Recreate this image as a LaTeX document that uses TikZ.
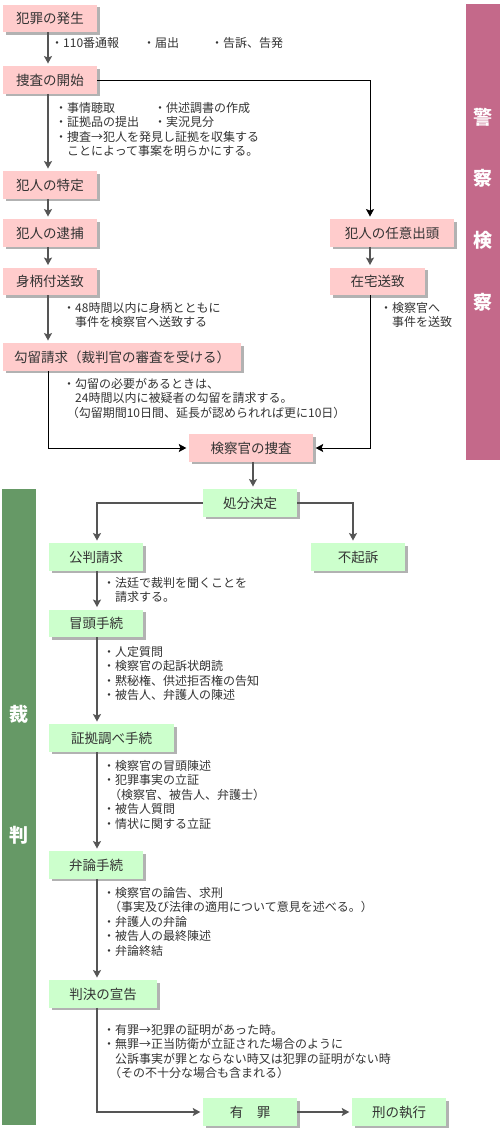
\documentclass[tikz,border=0pt]{standalone}
\usepackage{fontspec}
\setmainfont{Noto Sans CJK JP}
\usetikzlibrary{arrows.meta,shadows}
\definecolor{pinkbox}{HTML}{FFCCCC}
\definecolor{greenbox}{HTML}{CCFFCC}
\definecolor{pinkband}{HTML}{C4698A}
\definecolor{greenband}{HTML}{669966}
\definecolor{txt}{HTML}{333333}
\definecolor{arrgray}{HTML}{555555}
\tikzset{
  boxbase/.style={inner sep=0pt, minimum height=27.5, text=txt,
    font=\fontsize{13.5}{16}\selectfont,
    drop shadow={shadow xshift=2.5pt, shadow yshift=-2.5pt, fill=black, opacity=0.3}},
  pbox/.style={boxbase, fill=pinkbox},
  gbox/.style={boxbase, fill=greenbox},
  ann/.style={anchor=base west, inner sep=0pt, text=txt, font=\fontsize{12}{14.4}\selectfont},
  bandtxt/.style={text=white, font=\fontsize{19}{20}\selectfont\bfseries, inner sep=0pt},
  arr/.style={draw=arrgray, line width=1.4pt, -{Stealth[length=7.5pt,width=8pt,inset=1.5pt]}, shorten >=2.5pt},
  thin/.style={draw=black, line width=0.9pt},
  thinarr/.style={thin, -{Stealth[length=7.5pt,width=8pt,inset=1.5pt]}, shorten >=2.5pt},
}
\newcommand{\annblock}[4]{% name, x, first y center, list
  \foreach \t [count=\i from 0] in {#4}
    \node[ann] (#1-\i) at (#2, #3+\i*14.4+4.5) {\t};
}
\begin{document}
\begin{tikzpicture}[x=1pt, y=-1pt]
\useasboundingbox (0,0) rectangle (500,1134);

% bands
\fill[pinkband] (466,4) rectangle (500,460);
\node[bandtxt] (b1) at (483,117) {警};
\node[bandtxt] (b2) at (483,178) {察};
\node[bandtxt] (b3) at (483,240) {検};
\node[bandtxt] (b4) at (483,302) {察};
\fill[greenband] (2,489) rectangle (36,1125);
\node[bandtxt] (b5) at (19,714) {裁};
\node[bandtxt] (b6) at (19,835) {判};

% police boxes
\node[pbox, minimum width=94] (hassei) at (50,18.5) {犯罪の発生};
\node[pbox, minimum width=94] (kaishi) at (50,80) {捜査の開始};
\node[pbox, minimum width=94] (tokutei) at (50,185) {犯人の特定};
\node[pbox, minimum width=94] (taiho) at (50,233) {犯人の逮捕};
\node[pbox, minimum width=94] (mingara) at (50,281.5) {身柄付送致};
\node[pbox, minimum width=124] (shutto) at (392,233) {犯人の任意出頭};
\node[pbox, minimum width=95] (zaitaku) at (377.5,281.5) {在宅送致};
\node[pbox, minimum width=238] (koryu) at (122,357) {勾留請求（裁判官の審査を受ける）};
\node[pbox, minimum width=124] (sousa) at (251,448) {検察官の捜査};

% court boxes
\node[gbox, minimum width=94] (shobun) at (250,503) {処分決定};
\node[gbox, minimum width=94] (kohan) at (96,557) {公判請求};
\node[gbox, minimum width=94] (fukiso) at (358,557) {不起訴};
\node[gbox, minimum width=94] (boto) at (96,623.5) {冒頭手続};
\node[gbox, minimum width=125] (shoko) at (111.5,738) {証拠調べ手続};
\node[gbox, minimum width=94] (benron) at (96,865) {弁論手続};
\node[gbox, minimum width=108] (hanketsu) at (103,994) {判決の宣告};
\node[gbox, minimum width=94] (yuzai) at (250,1112) {有　罪};
\node[gbox, minimum width=94] (shikko) at (399,1112) {刑の執行};

% connectors police
\draw[arr] ([xshift=-2]hassei.south) -- ([xshift=-2]kaishi.north);
\draw[thinarr] (kaishi.east) -| ([xshift=-22]shutto.north);
\draw[arr] ([xshift=-2]kaishi.south) -- ([xshift=-2]tokutei.north);
\draw[arr] ([xshift=-2]tokutei.south) -- ([xshift=-2]taiho.north);
\draw[arr] ([xshift=-2]taiho.south) -- ([xshift=-2]mingara.north);
\draw[arr] ([xshift=-2]mingara.south) -- ([xshift=-2]mingara.south |- koryu.north);
\draw[arr] ([xshift=-22]shutto.south) -- ([xshift=-7.5]zaitaku.north);
\draw[thinarr] ([xshift=-7.5]zaitaku.south) |- (sousa.east);
\draw[thinarr] ([xshift=-2]mingara.south |- koryu.south) |- (sousa.west);
\draw[arr] ([xshift=2]sousa.south) -- ([xshift=3]shobun.north);

% connectors court
\draw[arr] (shobun.west) -| ([xshift=1]kohan.north);
\draw[arr] (shobun.east) -| ([xshift=-5]fukiso.north);
\draw[arr] ([xshift=1]kohan.south) -- ([xshift=1]boto.north);
\draw[arr] ([xshift=1]boto.south) -- ([xshift=1]boto.south |- shoko.north);
\draw[arr] ([xshift=1]boto.south |- shoko.south) -- ([xshift=1]benron.north);
\draw[arr] ([xshift=1]benron.south) -- ([xshift=1]benron.south |- hanketsu.north);
\draw[arr] ([xshift=1]benron.south |- hanketsu.south) |- (yuzai.west);
\draw[arr] (yuzai.east) -- (shikko.west);

% annotations
\annblock{a1}{51}{43}{・110番通報}
\annblock{a2}{143}{43}{・届出}
\annblock{a3}{211}{43}{・告訴、告発}
\annblock{a4}{55}{108}{・事情聴取, ・証拠品の提出, ・捜査→犯人を発見し証拠を収集する, 　ことによって事案を明らかにする。}
\annblock{a5}{154}{108}{・供述調書の作成, ・実況見分}
\annblock{a6}{63}{308}{・48時間以内に身柄とともに, 　事件を検察官へ送致する}
\annblock{a7}{380}{308}{・検察官へ, 　事件を送致}
\annblock{a8}{63}{384}{・勾留の必要があるときは、, 　24時間以内に被疑者の勾留を請求する。, \hspace*{0.3em}（勾留期間10日間、延長が認められれば更に10日）}
\annblock{a9}{103}{583}{・法廷で裁判を聞くことを, 　請求する。}
\annblock{a10}{103}{652}{・人定質問, ・検察官の起訴状朗読, ・黙秘権、供述拒否権の告知, ・被告人、弁護人の陳述}
\annblock{a11}{103}{766}{・検察官の冒頭陳述, ・犯罪事実の立証, \hspace*{0.5em}（検察官、被告人、弁護士）, ・被告人質問, ・情状に関する立証}
\annblock{a12}{103}{893}{・検察官の論告、求刑, \hspace*{0.5em}（事実及び法律の適用について意見を述べる。）, ・弁護人の弁論, ・被告人の最終陳述, ・弁論終結}
\annblock{a13}{103}{1030}{・有罪→犯罪の証明があった時。, ・無罪→正当防衛が立証された場合のように, 　公訴事実が罪とならない時又は犯罪の証明がない時, \hspace*{0.5em}（その不十分な場合も含まれる）}
\end{tikzpicture}
\end{document}
